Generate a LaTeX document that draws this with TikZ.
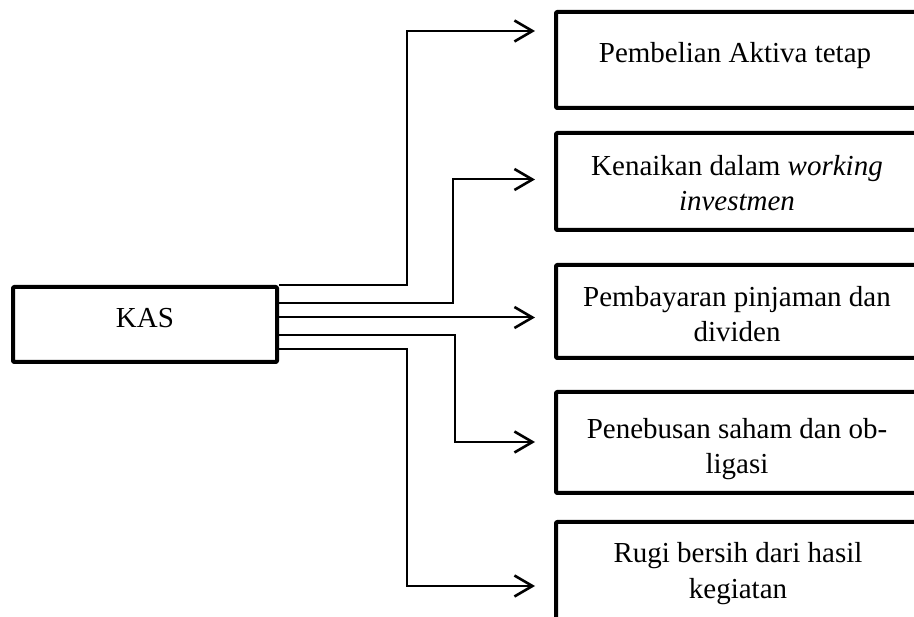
\documentclass[tikz,border=0pt]{standalone}
\usepackage{fontspec}
\setmainfont{Liberation Serif}
\usetikzlibrary{arrows.meta,calc}
\begin{document}
\begin{tikzpicture}[x=1pt,y=-1pt,
  box/.style={draw, line width=4pt, rounded corners=1pt, line join=round, rectangle, inner sep=0pt},
  label/.style={anchor=base, align=center, inner sep=0pt, font=\fontsize{29}{35.5}\selectfont},
  flow/.style={draw, line width=2pt, -{Straight Barb[length=18pt,width=21pt,line width=2.6pt]}}]
  \useasboundingbox (0,0) rectangle (914,617);
  \clip (0,0) rectangle (914,617);

  % source box
  \node[box, minimum width=264pt, minimum height=75pt] (kas) at (145,324.5) {};
  \node[label] (kastxt) at (145,328) {KAS};

  % target boxes
  \node[box, minimum width=362pt, minimum height=96pt]  (b1) at (737,60) {};
  \node[box, minimum width=362pt, minimum height=97pt]  (b2) at (737,181.5) {};
  \node[box, minimum width=362pt, minimum height=93pt]  (b3) at (737,311.5) {};
  \node[box, minimum width=362pt, minimum height=101pt] (b4) at (737,442.5) {};
  \node[box, minimum width=362pt, minimum height=160pt] (b5) at (737,602) {};

  % captions (anchored on the baseline of their last line)
  \node[label] (t1) at (735,63) {Pembelian Aktiva tetap};
  \node[label] (t2) at (737,211) {Kenaikan dalam \textit{working}\\\textit{investmen}};
  \node[label] (t3) at (737,342) {Pembayaran pinjaman dan\\dividen};
  \node[label] (t4) at (737,474) {Penebusan saham dan ob-\\ligasi};
  \node[label] (t5) at (738,598) {Rugi bersih dari hasil\\kegiatan};

  % exit points on the right side of the source box
  \coordinate (o1) at ($(kas.north east)+(0,0.5)$);
  \coordinate (o2) at ($(kas.north east)+(0,18.5)$);
  \coordinate (o3) at ($(kas.north east)+(0,32.5)$);
  \coordinate (o4) at ($(kas.north east)+(0,50)$);
  \coordinate (o5) at ($(kas.north east)+(0,64)$);

  % arrow tips in front of the target boxes
  \coordinate (e1) at ($(b1.west)+(-19,-29)$);
  \coordinate (e2) at ($(b2.west)+(-19,-2)$);
  \coordinate (e3) at ($(b3.west)+(-19,8)$);
  \coordinate (e4) at ($(b4.west)+(-19,-0.5)$);
  \coordinate (e5) at ($(b5.west)+(-19,-16)$);

  \path[flow] (o1) -- (407,0 |- o1) |- (e1);
  \path[flow] (o2) -- (453,0 |- o2) |- (e2);
  \path[flow] (o3) -- (e3 |- o3);
  \path[flow] (o4) -- (455,0 |- o4) |- (e4);
  \path[flow] (o5) -- (407,0 |- o5) |- (e5);
\end{tikzpicture}
\end{document}
